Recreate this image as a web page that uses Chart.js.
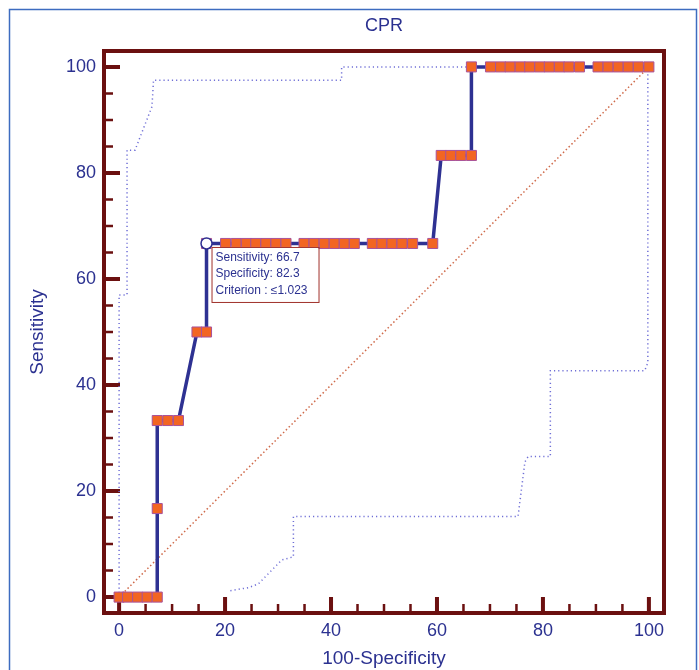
<!DOCTYPE html>
<html>
<head>
<meta charset="utf-8">
<script src="https://cdn.jsdelivr.net/npm/chart.js@4.4.1/dist/chart.umd.min.js"></script>
<style>
	html, body { margin: 0; padding: 0; background: #fff; }
	#wrap { width: 699px; height: 670px; }
</style>
</head>
<body>
<div id="wrap"><canvas id="roc" width="699" height="670"></canvas></div>
<script>
(function () {
	'use strict';

	/*
	| Data
	*/

	var TITLE   = 'CPR';
	var X_TITLE = '100-Specificity';
	var Y_TITLE = 'Sensitivity';

	var TICK_VALUES = [0, 20, 40, 60, 80, 100];
	var MINOR_VALUES = [5, 10, 15, 25, 30, 35, 45, 50, 55, 65, 70, 75, 85, 90, 95];

	// Empirical ROC curve (100-Specificity, Sensitivity)
	var ROC_X = [0, 1.6, 3.5, 5.3, 7.2, 7.2, 7.2, 9.2, 11.2, 14.7, 16.5,
		16.5, 20.1, 22.1, 24.0, 25.8, 27.7, 29.6, 31.5, 34.9, 36.8, 38.7, 40.6, 42.5, 44.4,
		47.8, 49.6, 51.5, 53.4, 55.4, 59.2,
		60.8, 62.6, 64.5, 66.5,
		66.5, 70.1, 72.0, 73.8, 75.7, 77.5, 79.4, 81.2, 83.1, 84.9, 86.9,
		90.4, 92.3, 94.2, 96.1, 98.0, 100];
	var ROC_Y = [0, 0, 0, 0, 0, 16.7, 33.3, 33.3, 33.3, 50, 50,
		66.7, 66.7, 66.7, 66.7, 66.7, 66.7, 66.7, 66.7, 66.7, 66.7, 66.7, 66.7, 66.7, 66.7,
		66.7, 66.7, 66.7, 66.7, 66.7, 66.7,
		83.3, 83.3, 83.3, 83.3,
		100, 100, 100, 100, 100, 100, 100, 100, 100, 100, 100,
		100, 100, 100, 100, 100, 100];

	// Optimal criterion point
	var CRIT_X = [16.5];
	var CRIT_Y = [66.7];
	var CRIT_LINES = ['Sensitivity: 66.7', 'Specificity: 82.3', 'Criterion : \u22641.023'];

	// Confidence bounds
	var UPPER_X = [0, 0, 1.5, 1.5, 3.0, 6.2, 6.5, 42, 42, 100];
	var UPPER_Y = [0, 57, 57, 84.3, 84.3, 92.5, 97.5, 97.5, 100, 100];
	var LOWER_X = [21.0, 24.5, 26.3, 30.7, 32.9, 32.9, 75.3, 76.6, 77.2, 81.4, 81.4, 99.2, 99.8, 99.8, 100];
	var LOWER_Y = [1.2, 1.8, 2.5, 7.0, 7.6, 15.2, 15.2, 25.5, 26.5, 26.5, 42.7, 42.7, 44.2, 98.5, 100];

	// Reference diagonal
	var DIAG_X = [0, 100];
	var DIAG_Y = [0, 100];

	/*
	| Style
	*/

	var FONT = "'Liberation Sans', Arial, Helvetica, sans-serif";
	var NAVY = '#2b3190';
	var FRAME = '#6b1010';

	function pts(xs, ys) {
		return xs.map(function (x, i) { return { x: x, y: ys[i] }; });
	}

	/*
	| Plugins
	*/

	var decor = {
		id: 'decor',
		beforeDraw: function (chart) {
			var ctx = chart.ctx;
			var a = chart.chartArea;
			ctx.save();
			// outer border
			ctx.strokeStyle = '#3d6cc0';
			ctx.lineWidth = 1.5;
			ctx.strokeRect(9.5, 9.5, 687, 680);
			// title
			ctx.fillStyle = NAVY;
			ctx.font = '18px ' + FONT;
			ctx.textAlign = 'center';
			ctx.textBaseline = 'middle';
			ctx.fillText(TITLE, (a.left + a.right) / 2, 26);
			ctx.restore();
		},
		beforeDatasetsDraw: function (chart) {
			var ctx = chart.ctx;
			var a = chart.chartArea;
			var xs = chart.scales.x;
			var ys = chart.scales.y;
			ctx.save();
			ctx.strokeStyle = FRAME;
			ctx.lineCap = 'butt';

			function tick(v, major) {
				var len = major ? 16 : 9;
				ctx.lineWidth = major ? 4 : 2.5;
				var px = xs.getPixelForValue(v);
				var py = ys.getPixelForValue(v);
				ctx.beginPath();
				ctx.moveTo(px, a.bottom);
				ctx.lineTo(px, a.bottom - len);
				ctx.moveTo(a.left, py);
				ctx.lineTo(a.left + len, py);
				ctx.stroke();
			}
			TICK_VALUES.forEach(function (v) { tick(v, true); });
			MINOR_VALUES.forEach(function (v) { tick(v, false); });

			ctx.lineWidth = 4;
			ctx.strokeRect(a.left, a.top, a.right - a.left, a.bottom - a.top);
			ctx.restore();
		},
		afterDatasetsDraw: function (chart) {
			var ctx = chart.ctx;
			var p = chart.getDatasetMeta(0).data[0];
			var left = p.x + 5;
			var top = p.y + 3.5;
			ctx.save();
			ctx.fillStyle = '#fff';
			ctx.fillRect(left, top, 107, 55);
			ctx.strokeStyle = '#a0302a';
			ctx.lineWidth = 1;
			ctx.strokeRect(left + 0.5, top + 0.5, 107, 55);
			ctx.fillStyle = NAVY;
			ctx.font = '12px ' + FONT;
			ctx.textAlign = 'left';
			ctx.textBaseline = 'middle';
			CRIT_LINES.forEach(function (t, i) {
				ctx.fillText(t, left + 4, top + 10.5 + i * 16.7);
			});
			ctx.restore();
		}
	};

	/*
	| Chart
	*/

	new Chart(document.getElementById('roc'), {
		type: 'scatter',
		data: {
			datasets: [
				{
					data: pts(CRIT_X, CRIT_Y),
					showLine: false,
					pointStyle: 'circle',
					pointRadius: 5.5,
					pointBackgroundColor: '#ffffff',
					pointBorderColor: '#2e3192',
					pointBorderWidth: 1.5
				},
				{
					data: pts(ROC_X, ROC_Y),
					showLine: true,
					borderColor: '#2e3192',
					borderWidth: 3.5,
					pointStyle: 'rect',
					pointRadius: 7.1,
					pointBackgroundColor: '#f26522',
					pointBorderColor: '#a8529a',
					pointBorderWidth: 1
				},
				{
					data: pts(DIAG_X, DIAG_Y),
					showLine: true,
					borderColor: '#cf6a4a',
					borderWidth: 1.5,
					borderDash: [1.5, 2.5],
					pointRadius: 0
				},
				{
					data: pts(UPPER_X, UPPER_Y),
					showLine: true,
					borderColor: '#6f6fd6',
					borderWidth: 1.5,
					borderDash: [1.2, 3],
					pointRadius: 0
				},
				{
					data: pts(LOWER_X, LOWER_Y),
					showLine: true,
					borderColor: '#6f6fd6',
					borderWidth: 1.5,
					borderDash: [1.2, 3],
					pointRadius: 0
				}
			]
		},
		options: {
			responsive: false,
			animation: false,
			devicePixelRatio: 1,
			layout: { padding: { left: 0, right: 35, top: 51, bottom: 0 } },
			plugins: {
				legend: { display: false },
				tooltip: { enabled: false },
				title: { display: false }
			},
			scales: {
				x: {
					type: 'linear',
					min: -2.85,
					max: 102.85,
					grid: { display: false, drawTicks: false },
					border: { display: false },
					afterBuildTicks: function (scale) {
						scale.ticks = TICK_VALUES.map(function (v) { return { value: v }; });
					},
					afterFit: function (scale) { scale.height = 57; },
					ticks: {
						color: NAVY,
						padding: 7,
						maxRotation: 0,
						font: { family: FONT, size: 18 }
					},
					title: {
						display: true,
						text: X_TITLE,
						color: NAVY,
						padding: { top: 0, bottom: 0 },
						font: { family: FONT, size: 19 }
					}
				},
				y: {
					type: 'linear',
					min: -3,
					max: 103,
					grid: { display: false, drawTicks: false },
					border: { display: false },
					afterBuildTicks: function (scale) {
						scale.ticks = TICK_VALUES.map(function (v) { return { value: v }; });
					},
					afterFit: function (scale) { scale.width = 104; },
					ticks: {
						color: NAVY,
						padding: 8,
						font: { family: FONT, size: 18 }
					},
					title: {
						display: true,
						text: Y_TITLE,
						color: NAVY,
						padding: { top: 26, bottom: 0 },
						font: { family: FONT, size: 19 }
					}
				}
			}
		},
		plugins: [decor]
	});
})();
</script>
</body>
</html>
